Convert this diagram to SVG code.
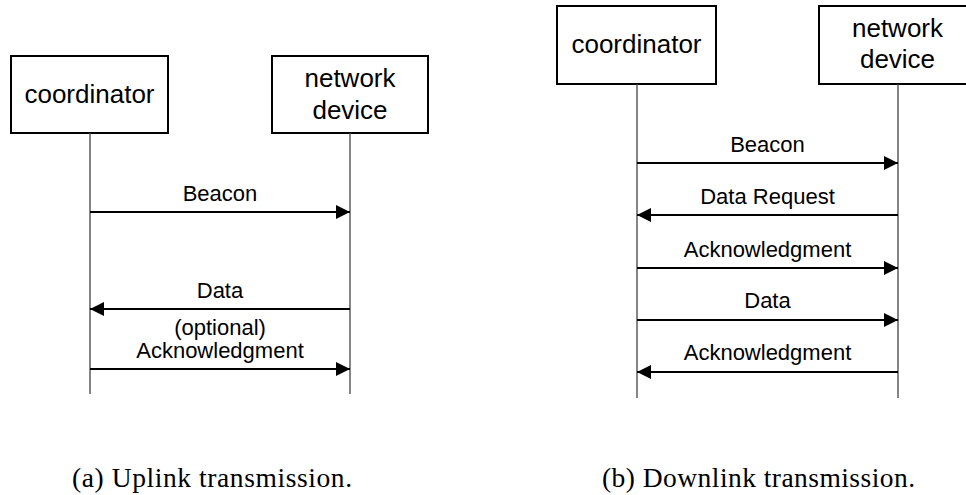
<svg xmlns="http://www.w3.org/2000/svg" width="966" height="495" viewBox="0 0 966 495">
  <style>
    .box { fill: #fff; stroke: #000; stroke-width: 2; }
    .life { stroke: #444; stroke-width: 1.3; fill: none; }
    .msg { stroke: #000; stroke-width: 2; fill: none; marker-end: url(#head); }
    .name { font-family: "Liberation Sans", Arial, sans-serif; font-size: 26px; text-anchor: middle; fill: #000; }
    .lbl { font-family: "Liberation Sans", Arial, sans-serif; font-size: 22px; text-anchor: middle; fill: #000; }
    .cap { font-family: "Liberation Serif", "Times New Roman", serif; font-size: 27.5px; fill: #000; }
  </style>
  <defs>
    <marker id="head" markerUnits="userSpaceOnUse" markerWidth="15" markerHeight="14" refX="14" refY="7" orient="auto">
      <path d="M0,0 L14,7 L0,14 z" fill="#000"/>
    </marker>
  </defs>
  <rect width="966" height="495" fill="#fff"/>

  <!-- (a) uplink -->
  <g id="a-coordinator">
    <rect class="box" x="11" y="56" width="157" height="77"/>
    <text class="name" x="89.5" y="103">coordinator</text>
  </g>
  <g id="a-device">
    <rect class="box" x="272" y="56" width="156" height="77"/>
    <text class="name" x="350" y="87">network</text>
    <text class="name" x="350" y="119">device</text>
  </g>
  <g id="a-connectors">
    <line class="life" x1="90" y1="133" x2="90" y2="394"/>
    <line class="life" x1="350" y1="133" x2="350" y2="394"/>
    <line class="msg" x1="90" y1="212" x2="350" y2="212"/>
    <text class="lbl" x="220" y="201">Beacon</text>
    <line class="msg" x1="350" y1="309" x2="90" y2="309"/>
    <text class="lbl" x="220" y="298">Data</text>
    <text class="lbl" x="220" y="335">(optional)</text>
    <text class="lbl" x="220" y="358">Acknowledgment</text>
    <line class="msg" x1="90" y1="369" x2="350" y2="369"/>
  </g>
  <text class="cap" x="72" y="487" textLength="280" lengthAdjust="spacing">(a) Uplink transmission.</text>

  <!-- (b) downlink -->
  <g id="b-coordinator">
    <rect class="box" x="557" y="6" width="159" height="78"/>
    <text class="name" x="636.5" y="53">coordinator</text>
  </g>
  <g id="b-device">
    <rect class="box" x="819" y="6" width="160" height="78"/>
    <text class="name" x="897.5" y="37">network</text>
    <text class="name" x="897.5" y="68">device</text>
  </g>
  <g id="b-connectors">
    <line class="life" x1="637" y1="84" x2="637" y2="398"/>
    <line class="life" x1="898" y1="84" x2="898" y2="398"/>
    <line class="msg" x1="637" y1="163" x2="898" y2="163"/>
    <text class="lbl" x="767.5" y="152">Beacon</text>
    <line class="msg" x1="898" y1="215" x2="637" y2="215"/>
    <text class="lbl" x="767.5" y="204">Data Request</text>
    <line class="msg" x1="637" y1="268" x2="898" y2="268"/>
    <text class="lbl" x="767.5" y="257">Acknowledgment</text>
    <line class="msg" x1="637" y1="320" x2="898" y2="320"/>
    <text class="lbl" x="767.5" y="308">Data</text>
    <line class="msg" x1="898" y1="372" x2="637" y2="372"/>
    <text class="lbl" x="767.5" y="360">Acknowledgment</text>
  </g>
  <text class="cap" x="602" y="487" textLength="313" lengthAdjust="spacing">(b) Downlink transmission.</text>
</svg>
